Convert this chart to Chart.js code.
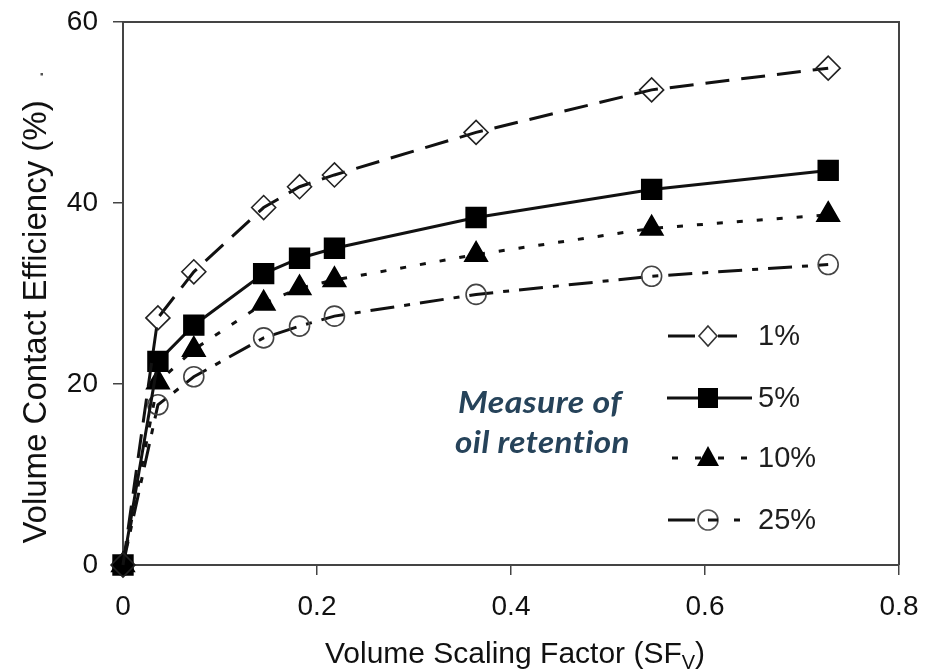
<!DOCTYPE html>
<html>
<head>
<meta charset="utf-8">
<script src="https://cdn.jsdelivr.net/npm/chart.js@4.4.1/dist/chart.umd.min.js"></script>
<style>
  html, body { margin: 0; padding: 0; background: #fff; }
  #wrap { width: 936px; height: 672px; }
</style>
</head>
<body>
<div id="wrap"><canvas id="chart" width="936" height="672"></canvas></div>
<script>
// Volume scaling factor (x), shared by every series
const sfv = [0, 0.036, 0.073, 0.145, 0.182, 0.218, 0.364, 0.545, 0.727];

// Volume contact efficiency (%) for each oil retention level
const eff1 = [0, 27.3, 32.4, 39.5, 41.8, 43.1, 47.8, 52.5, 54.9];
const eff5 = [0, 22.5, 26.5, 32.2, 33.9, 35.0, 38.4, 41.5, 43.6];
const eff10 = [0, 20.2, 23.8, 28.9, 30.6, 31.5, 34.3, 37.2, 38.7];
const eff25 = [0, 17.7, 20.8, 25.1, 26.4, 27.5, 29.9, 31.9, 33.2];

const seriesLabels = ["1%", "5%", "10%", "25%"];
const xTicks = [0, 0.2, 0.4, 0.6, 0.8];
const yTicks = [0, 20, 40, 60];

const xTitle = "Volume Scaling Factor (SF";
const xTitleSub = "V";
const yTitle = "Volume Contact Efficiency (%)";
const note = ["Measure of", "oil retention"];

const FONT = "'Liberation Sans', Arial, sans-serif";
const INK = "#111";

// line and marker look for each series
const looks = [
  { dash: [24, 12], point: "rectRot", radius: 12, fill: "rgba(255,255,255,0)", edge: "#222" },
  { dash: [], point: "rect", radius: 14, fill: "#000", edge: "#000" },
  { dash: [6, 14], point: "triangle", radius: 13, fill: "#000", edge: "#000" },
  { dash: [24, 10, 6, 10], point: "circle", radius: 10, fill: "rgba(255,255,255,0)", edge: "#444" },
];

// legend line pattern and extent (canvas px)
const legendLines = [
  { dash: [27, 23], from: 668, to: 737 },
  { dash: [], from: 667, to: 752 },
  { dash: [6, 17], from: 672, to: 748 },
  { dash: [27, 39, 6, 50], from: 668, to: 741 },
];
const legendRows = [336, 398, 458, 520];

const allSeries = [eff1, eff5, eff10, eff25];

const datasets = allSeries.map((vals, i) => ({
  label: seriesLabels[i],
  data: sfv.map((x, j) => ({ x: x, y: vals[j] })),
  borderColor: INK,
  borderWidth: 3,
  borderDash: looks[i].dash,
  tension: 0,
  pointStyle: looks[i].point,
  pointRadius: looks[i].radius,
  pointBackgroundColor: looks[i].fill,
  pointBorderColor: looks[i].edge,
  pointBorderWidth: 1.6,
  clip: false,
}));

function drawMarker(ctx, kind, x, y) {
  ctx.save();
  ctx.setLineDash([]);
  ctx.lineWidth = 1.6;
  ctx.beginPath();
  if (kind === "rectRot") {
    ctx.moveTo(x, y - 10); ctx.lineTo(x + 9, y); ctx.lineTo(x, y + 10); ctx.lineTo(x - 9, y);
    ctx.closePath();
    ctx.fillStyle = "#fff"; ctx.fill();
    ctx.strokeStyle = "#333"; ctx.stroke();
  } else if (kind === "rect") {
    ctx.fillStyle = "#000";
    ctx.fillRect(x - 10, y - 10, 20, 20);
  } else if (kind === "triangle") {
    ctx.moveTo(x, y - 12); ctx.lineTo(x + 11, y + 8); ctx.lineTo(x - 11, y + 8);
    ctx.closePath();
    ctx.fillStyle = "#000"; ctx.fill();
  } else {
    ctx.arc(x, y, 10, 0, Math.PI * 2);
    ctx.fillStyle = "#fff"; ctx.fill();
    ctx.strokeStyle = "#555"; ctx.stroke();
    ctx.beginPath();
    ctx.moveTo(x, y); ctx.lineTo(x + 10, y);
    ctx.lineWidth = 3; ctx.strokeStyle = INK; ctx.stroke();
  }
  ctx.restore();
}

// squeeze or stretch a line of text to a target width
function fitText(ctx, text, x, y, width) {
  const w = ctx.measureText(text).width;
  ctx.save();
  ctx.translate(x, y);
  ctx.scale(width / w, 1);
  ctx.fillText(text, 0, 0);
  ctx.restore();
}

const frame = {
  id: "frame",
  beforeDatasetsDraw(chart) {
    const { ctx, chartArea: a } = chart;
    ctx.save();
    ctx.strokeStyle = "#444";
    ctx.lineWidth = 2;
    ctx.beginPath();
    ctx.moveTo(a.left, a.top);
    ctx.lineTo(a.right, a.top);
    ctx.lineTo(a.right, a.bottom);
    ctx.stroke();
    ctx.restore();
  },
  afterDraw(chart) {
    const { ctx } = chart;
    ctx.save();

    // x axis title with subscript
    ctx.fillStyle = INK;
    ctx.textBaseline = "alphabetic";
    ctx.textAlign = "left";
    ctx.font = "30px " + FONT;
    const wMain = ctx.measureText(xTitle).width;
    const wClose = ctx.measureText(")").width;
    ctx.font = "20px " + FONT;
    const wSub = ctx.measureText(xTitleSub).width;
    let tx = 515 - (wMain + wSub + wClose) / 2;
    ctx.font = "30px " + FONT;
    ctx.fillText(xTitle, tx, 663);
    tx += wMain;
    ctx.font = "20px " + FONT;
    ctx.fillText(xTitleSub, tx, 669);
    tx += wSub;
    ctx.font = "30px " + FONT;
    ctx.fillText(")", tx, 663);

    // y axis title
    ctx.save();
    ctx.font = "33px " + FONT;
    ctx.translate(37, 322);
    ctx.rotate(-Math.PI / 2);
    ctx.textAlign = "center";
    ctx.textBaseline = "middle";
    ctx.fillText(yTitle, 0, 0);
    ctx.restore();
    ctx.fillStyle = "#555";
    ctx.fillRect(40.5, 73, 2.5, 2.5);

    // legend
    legendRows.forEach((y, i) => {
      const ln = legendLines[i];
      ctx.save();
      ctx.strokeStyle = INK;
      ctx.lineWidth = 3;
      ctx.setLineDash(ln.dash);
      ctx.beginPath();
      ctx.moveTo(ln.from, y);
      ctx.lineTo(ln.to, y);
      ctx.stroke();
      ctx.restore();
      drawMarker(ctx, looks[i].point, 708, y);
      ctx.fillStyle = "#1e1e1e";
      ctx.font = "29px " + FONT;
      ctx.textAlign = "left";
      ctx.textBaseline = "middle";
      ctx.fillText(seriesLabels[i], 758, y + 1);
    });

    // annotation (letter spacing also stops the "ti" ligature)
    ctx.fillStyle = "#26435a";
    ctx.font = "italic bold 31px Lato, 'Open Sans', sans-serif";
    ctx.letterSpacing = "0.4px";
    ctx.textAlign = "left";
    ctx.textBaseline = "alphabetic";
    fitText(ctx, note[0], 458, 413, 164);
    fitText(ctx, note[1], 455, 453, 175);

    ctx.restore();
  },
};

// keep the plot box where the reference has it, whatever the labels need
function noScalePadding(s) {
  s.paddingTop = 0;
  s.paddingBottom = 0;
  s.paddingLeft = 0;
  s.paddingRight = 0;
}

const ctx = document.getElementById("chart").getContext("2d");

new Chart(ctx, {
  type: "line",
  data: { datasets: datasets },
  plugins: [frame],
  options: {
    responsive: false,
    animation: false,
    devicePixelRatio: 1,
    layout: { padding: { top: 22, right: 37, left: 0, bottom: 0 } },
    plugins: { legend: { display: false }, tooltip: { enabled: false } },
    scales: {
      x: {
        type: "linear",
        min: xTicks[0],
        max: xTicks[xTicks.length - 1],
        afterBuildTicks: (s) => { s.ticks = xTicks.map((v) => ({ value: v })); },
        afterFit: (s) => { s.height = 107; noScalePadding(s); },
        ticks: {
          color: INK,
          font: { family: FONT, size: 28 },
          padding: 15,
          maxRotation: 0,
          callback: (v) => String(v),
        },
        grid: { drawOnChartArea: false, tickLength: 10, color: "#444", lineWidth: 1.5 },
        border: { display: true, color: "#444", width: 2 },
      },
      y: {
        type: "linear",
        min: yTicks[0],
        max: yTicks[yTicks.length - 1],
        afterBuildTicks: (s) => { s.ticks = yTicks.map((v) => ({ value: v })); },
        afterFit: (s) => { s.width = 123; noScalePadding(s); },
        ticks: {
          color: INK,
          font: { family: FONT, size: 28 },
          padding: 15,
          callback: (v) => String(v),
        },
        grid: { drawOnChartArea: false, tickLength: 10, color: "#444", lineWidth: 1.5 },
        border: { display: true, color: "#444", width: 2 },
      },
    },
  },
});
</script>
</body>
</html>
